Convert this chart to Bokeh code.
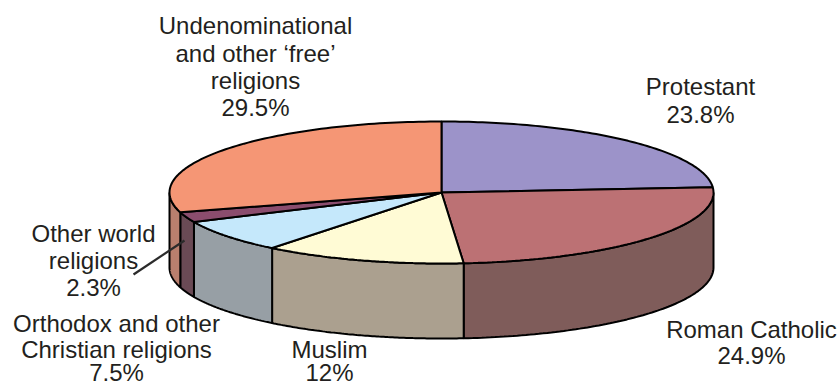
import numpy as np
from bokeh.plotting import figure
from bokeh.models import Range1d
from bokeh.core.properties import value
from bokeh.embed import file_html
from bokeh.resources import INLINE

# Religion shares, clockwise from twelve o'clock
categories = ["Protestant", "Roman Catholic", "Muslim",
              "Orthodox and other Christian religions",
              "Other world religions",
              "Undenominational and other 'free' religions"]
shares = [23.8, 24.9, 12.0, 7.5, 2.3, 29.5]
top_colors = ["#9C93C9", "#BC7174", "#FFFBD5", "#C5E8FB", "#8B4D6E", "#F59675"]
side_colors = ["#6B6488", "#7F5C5A", "#ABA08F", "#979FA5", "#6A4A55", "#B97F6E"]

# Label lines with their centre positions
label_lines = ["Undenominational", "and other \u2018free\u2019", "religions", "29.5%",
               "Protestant", "23.8%",
               "Roman Catholic", "24.9%",
               "Muslim", "12%",
               "Orthodox and other", "Christian religions", "7.5%",
               "Other world", "religions", "2.3%"]
label_x = [255, 255, 255, 255,
           700, 700,
           751, 751,
           329, 329,
           116, 116, 116,
           93, 93, 93]
label_y = [25, 53, 80, 107,
           86, 114,
           329, 355,
           349, 372,
           323, 349, 372,
           233, 260, 287]

# Pie geometry in page pixels
cx, cy = 441, 192
rx, ry = 272, 71
depth = 75


def rim(a0, a1, n=90):
    t = np.radians(np.linspace(a0, a1, n))
    return cx + rx * np.sin(t), cy - ry * np.cos(t)


p = figure(width=838, height=386, output_backend="svg", toolbar_location=None,
           x_range=Range1d(0, 838), y_range=Range1d(386, 0), min_border=0)
p.axis.visible = False
p.grid.visible = False
p.outline_line_color = None
p.background_fill_color = "white"

edges = np.cumsum([0.0] + shares) / sum(shares) * 360

# Side wall: only the near half of the rim is visible
for a0, a1, col in zip(edges[:-1], edges[1:], side_colors):
    lo, hi = max(a0, 90), min(a1, 270)
    if lo >= hi:
        continue
    x, y = rim(lo, hi)
    p.patch(np.r_[x, x[::-1]], np.r_[y, y[::-1] + depth],
            fill_color=col, line_color="black", line_width=2)

# Top face wedges
for a0, a1, col in zip(edges[:-1], edges[1:], top_colors):
    x, y = rim(a0, a1)
    p.patch(np.r_[cx, x], np.r_[cy, y],
            fill_color=col, line_color="black", line_width=2)

# Leader from the small slice to its label
p.line([133, 184], [274, 240], line_color="#2b2b2b", line_width=2.2)

p.text(label_x, label_y, text=label_lines, text_font=value("Liberation Sans"),
       text_font_size="24px", text_color="#231f20",
       text_align="center", text_baseline="middle")

open("out.html", "w").write(file_html(p, INLINE))
